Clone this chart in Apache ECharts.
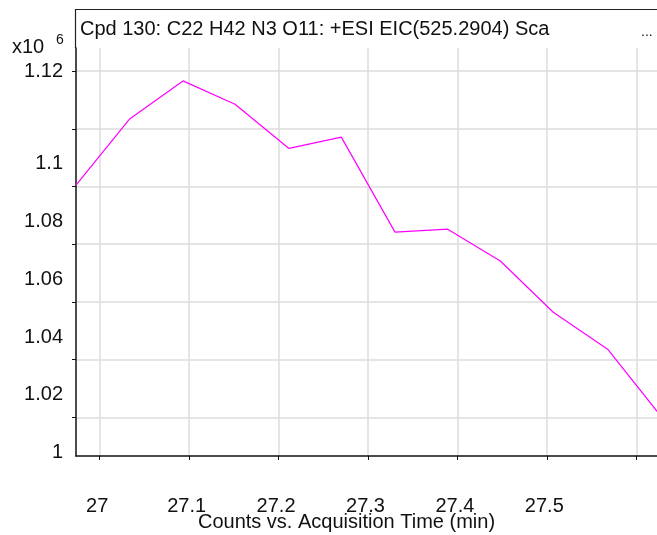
<!DOCTYPE html>
<html>
<head>
<meta charset="utf-8">
<script src="https://cdn.jsdelivr.net/npm/echarts@6/dist/echarts.min.js"></script>
<style>
html,body{margin:0;padding:0;background:#fff;}
#chart{width:657px;height:535px;}
</style>
</head>
<body>
<div id="chart"></div>
<script>
// Data
const titleText = 'Cpd 130: C22 H42 N3 O11: +ESI EIC(525.2904) Sca';
const xAxisTitle = 'Counts vs. Acquisition Time (min)';
const times = [26.9735, 27.0331, 27.0931, 27.1513, 27.2117, 27.2702, 27.3302, 27.3891, 27.4480, 27.5072, 27.5680, 27.6273];
const counts = [1.0805, 1.1033, 1.1166, 1.1085, 1.0932, 1.0971, 1.0642, 1.0652, 1.0542, 1.0364, 1.0236, 1.0005]; // x10^6
const xTicks = [27, 27.1, 27.2, 27.3, 27.4, 27.5, 27.6];
const xTickLabels = [27, 27.1, 27.2, 27.3, 27.4, 27.5];
const yTicks = [1, 1.02, 1.04, 1.06, 1.08, 1.1, 1.12];
const yTopLabel = [1.12];
const yLowerLabels = [1, 1.02, 1.04, 1.06, 1.08, 1.1];

const FONT = 'Liberation Sans';
const chart = echarts.init(document.getElementById('chart'));
const yMin = 0.9866, yMax = 1.128;
const labelShift = 0.01216;

chart.setOption({
  animation: false,
  backgroundColor: '#fff',
  textStyle: {fontFamily: FONT},
  grid: {left: 76, top: 48, right: 0, bottom: 79, containLabel: false, outerBoundsMode: 'none'},
  xAxis: {
    type: 'value',
    min: 26.9735, max: 27.6232,
    axisLine: {show: true, lineStyle: {color: '#111', width: 1.5}},
    axisTick: {show: true, length: 4, customValues: xTicks, lineStyle: {color: '#111'}},
    axisLabel: {customValues: xTickLabels, margin: 40, fontSize: 20, color: '#111', fontFamily: FONT, padding: [0, 5, 0, 0],
      formatter: v => String(v)},
    splitLine: {show: true, lineStyle: {color: '#dcdcdc', width: 1.5}},
    name: xAxisTitle,
    nameLocation: 'middle',
    nameGap: 56,
    nameMoveOverlap: false,
    nameTextStyle: {fontSize: 20, color: '#111', fontFamily: FONT, padding: [0, 40, 0, 0]}
  },
  yAxis: [{
    type: 'value',
    min: yMin, max: yMax,
    axisLine: {show: true, lineStyle: {color: '#111', width: 1.5}},
    axisTick: {show: true, length: 4, customValues: yTicks, lineStyle: {color: '#111'}},
    axisLabel: {customValues: yTopLabel, margin: 13, fontSize: 20, color: '#111', fontFamily: FONT,
      formatter: v => String(v)},
    splitLine: {show: true, lineStyle: {color: '#dcdcdc', width: 1.5}}
  }, {
    type: 'value',
    position: 'left',
    min: yMin + labelShift, max: yMax + labelShift,
    axisLine: {show: false},
    axisTick: {show: false},
    splitLine: {show: false},
    axisLabel: {customValues: yLowerLabels, margin: 13, fontSize: 20, color: '#111', fontFamily: FONT,
      formatter: v => String(v)}
  }],
  graphic: [
    {type: 'polyline', shape: {points: [[75.5, 48], [75.5, 9.5], [660, 9.5]]}, style: {stroke: '#222', lineWidth: 1.2, fill: null}},
    {type: 'text', left: 80, top: 19, style: {text: titleText, font: '20px "' + FONT + '"', fill: '#111'}},
    {type: 'text', left: 641, top: 25, style: {text: '...', font: '14px "' + FONT + '"', fill: '#111'}},
    {type: 'text', left: 12, top: 37, style: {text: 'x10', font: '20px "' + FONT + '"', fill: '#111'}},
    {type: 'text', left: 56, top: 33, style: {text: '6', font: '14px "' + FONT + '"', fill: '#111'}}
  ],
  series: [{
    type: 'line',
    data: times.map((t, i) => [t, counts[i]]),
    showSymbol: false,
    clip: true,
    lineStyle: {color: '#ff00ff', width: 1.2},
    itemStyle: {color: '#ff00ff'}
  }]
});
</script>
</body>
</html>
